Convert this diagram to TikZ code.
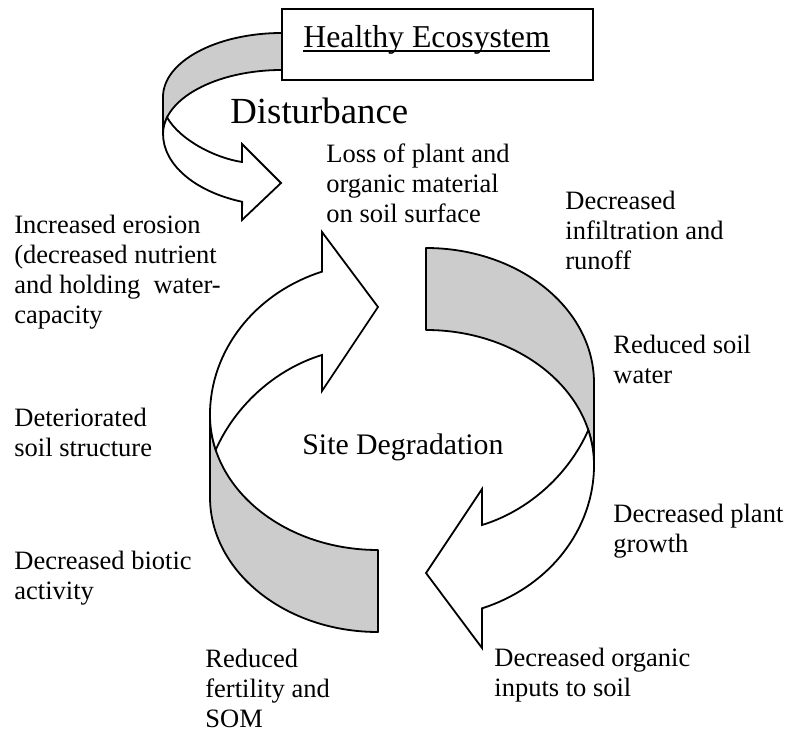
\documentclass[tikz,border=0pt]{standalone}
\usepackage{fontspec}
\setmainfont{Liberation Serif}
\usepackage{tikz}

\definecolor{bandgray}{RGB}{204,204,204}
\tikzset{
  band/.style={fill=bandgray, draw=black, line width=0.9pt, line join=round},
  face/.style={fill=white, draw=black, line width=0.9pt, line join=miter},
  lbl/.style={anchor=base west, inner sep=0pt, align=left,
    font=\fontsize{13.25}{15}\selectfont},
}

\begin{document}
\begin{tikzpicture}[x=0.5pt,y=-0.5pt]
  \useasboundingbox (0,0) rectangle (788,732);

  % disturbance arrow
  \draw[band] (282,33) arc[start angle=-90,end angle=-180,x radius=119,y radius=64]
    -- (163,134) arc[start angle=180,end angle=270,x radius=119,y radius=64] -- cycle;
  \coordinate (dc) at (167.1,117.4);
  \draw[face] (dc) arc[start angle=195,end angle=180,x radius=119,y radius=64]
    arc[start angle=180,end angle=109.6,x radius=119,y radius=72]
    -- (242,220) -- (281,183) -- (242,144) -- (242,162)
    .. controls (215,158) and (180,140) .. (dc) -- cycle;

  \draw[line width=0.9pt, fill=white] (282,9) rectangle (593,80);
  \node[anchor=base west, inner sep=0pt, font=\fontsize{15.9}{18}\selectfont]
    (healthy) at (303,48) {Healthy Ecosystem};
  \draw[line width=0.8pt] ([yshift=-1.5pt]healthy.base west) -- ([yshift=-1.5pt]healthy.base east);

  % the two halves of the cycle
  \foreach \rot in {0,180} {
    \begin{scope}[rotate around={\rot:(402,440)}]
      \draw[band] (426,248) arc[start angle=-90,end angle=0,x radius=168,y radius=135]
        -- (594,465) arc[start angle=0,end angle=-90,x radius=168,y radius=135] -- cycle;
      \coordinate (rc) at (588.3,430.1);
      \draw[face] (rc) arc[start angle=-15,end angle=0,x radius=168,y radius=135]
        arc[start angle=0,end angle=70.5,x radius=168,y radius=152]
        -- (482,648) -- (426,573) -- (482,489) -- (482,525)
        .. controls (525,512) and (567,478) .. (rc) -- cycle;
    \end{scope}
  }

  \node[anchor=base west, inner sep=0pt, font=\fontsize{18.4}{21}\selectfont]
    (dist) at (230,124) {Disturbance};
  \node[anchor=base west, inner sep=0pt, font=\fontsize{14.9}{17}\selectfont]
    (site) at (302,455) {Site Degradation};

  % labels: placed at the baseline of their last line
  \node[lbl] (loss) at (326,223) {Loss of plant and\\organic material\\on soil surface};
  \node[lbl] (infil) at (565,270) {Decreased\\infiltration and\\runoff};
  \node[lbl] (water) at (613,384) {Reduced soil\\water};
  \node[lbl] (growth) at (613,553) {Decreased plant\\growth};
  \node[lbl] (inputs) at (494,697) {Decreased organic\\inputs to soil};
  \node[lbl] (fert) at (205,727) {Reduced\\fertility and\\SOM};
  \node[lbl] (biotic) at (14,600) {Decreased biotic\\activity};
  \node[lbl] (struct) at (14,457) {Deteriorated\\soil structure};
  \node[lbl] (erosion) at (14,324) {Increased erosion\\(decreased nutrient\\and holding\ \ water-\\capacity};
\end{tikzpicture}
\end{document}
